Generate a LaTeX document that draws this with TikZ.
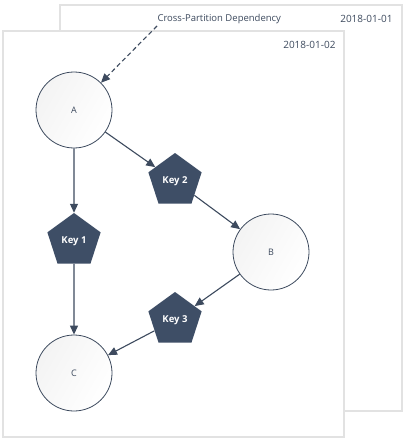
\documentclass[tikz,border=0pt]{standalone}
\usepackage{fontspec}
\setmainfont{Open Sans}
\usetikzlibrary{shapes.geometric,arrows.meta}
\definecolor{slate}{HTML}{3E4E66}
\definecolor{edgeblue}{HTML}{3D4A5E}
\definecolor{framegray}{HTML}{E2E2E2}

\begin{document}
\begin{tikzpicture}[x=1pt,y=-1pt]
\tikzstyle{every node}=[text=edgeblue]
\tikzstyle{partition}=[draw=framegray,line width=1.4pt,fill=white]
\tikzstyle{datelabel}=[anchor=east,font=\fontsize{10}{12}\selectfont]
\tikzstyle{vertex}=[circle,draw=edgeblue,line width=0.8pt,minimum size=76pt,inner sep=0,
  left color=gray!9,right color=white,shading angle=60,font=\fontsize{9}{11}\selectfont]
\tikzstyle{keynode}=[regular polygon,regular polygon sides=5,fill=slate,minimum size=56pt,
  inner sep=0,text=white,font=\fontsize{9.5}{11}\selectfont\bfseries]
\tikzstyle{link}=[draw=edgeblue,line width=1.1pt,-{Triangle[length=9pt,width=8pt]}]
\useasboundingbox (0,0) rectangle (408,441);
% partitions
\draw[partition] (60,5) rectangle (402,411);
\node[datelabel] (day1) at (396,19) {2018-01-01};
\node[anchor=west,font=\fontsize{9.5}{11}\selectfont] (dep) at (154,19) {Cross-Partition Dependency};
\draw[partition] (3,31) rectangle (344,437);
\node[datelabel] (day2) at (339,45) {2018-01-02};
% graph
\node[vertex] (a) at (74,110) {A};
\node[vertex] (b) at (271,252) {B};
\node[vertex] (c) at (74,373) {C};
\node[keynode] (k1) at (74,241) {Key 1};
\node[keynode] (k2) at (175,181) {Key 2};
\node[keynode] (k3) at (175,320) {Key 3};
\coordinate (from) at (157,26);
\draw[link,dash pattern=on 4.5pt off 3pt] (from) -- (a);
\draw[link] (a) -- (k1);
\draw[link] (a) -- (k2);
\draw[link] (k2) -- (b);
\draw[link] (k1) -- (c);
\draw[link] (b) -- (k3);
\draw[link] (k3) -- (c);
\end{tikzpicture}
\end{document}
